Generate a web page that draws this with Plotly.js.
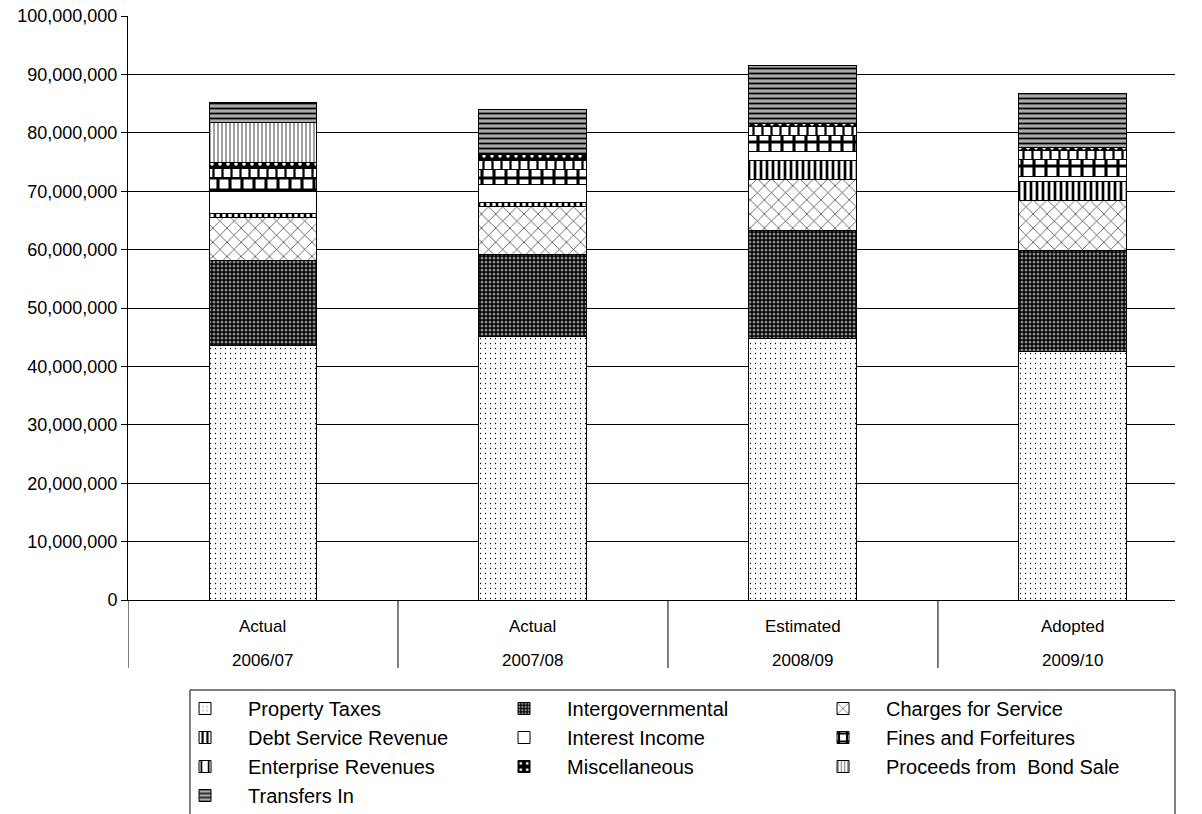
<!DOCTYPE html>
<html>
<head>
<meta charset="utf-8">
<script src="https://cdn.plot.ly/plotly-3.0.1.min.js"></script>
<style>
  html, body { margin: 0; padding: 0; background: #fff; }
  #chart { width: 1202px; height: 814px; }
</style>
</head>
<body>
<div id="chart"></div>
<script>
// Revenue by source, four budget years
const categoryLabels = ['Actual', 'Actual', 'Estimated', 'Adopted'];
const yearLabels = ['2006/07', '2007/08', '2008/09', '2009/10'];
const positions = [0, 1, 2, 3];

const seriesNames = [
  'Property Taxes', 'Intergovernmental', 'Charges for Service',
  'Debt Service Revenue', 'Interest Income', 'Fines and Forfeitures',
  'Enterprise Revenues', 'Miscellaneous', 'Proceeds from  Bond Sale',
  'Transfers In'
];

const propertyTaxes      = [43660000, 45090000, 44810000, 42520000];
const intergovernmental  = [14560000, 13990000, 18430000, 17290000];
const chargesForService  = [7310000, 8270000, 8680000, 8560000];
const debtServiceRevenue = [690000, 680000, 3420000, 3260000];
const interestIncome     = [3690000, 3150000, 1540000, 970000];
const finesForfeitures   = [2470000, 2620000, 2740000, 2910000];
const enterpriseRevenues = [1540000, 1420000, 1430000, 1460000];
const miscellaneous      = [960000, 980000, 580000, 570000];
const bondSaleProceeds   = [6850000, 0, 0, 0];
const transfersIn        = [3420000, 7820000, 9810000, 9250000];

const seriesValues = [
  propertyTaxes, intergovernmental, chargesForService, debtServiceRevenue,
  interestIncome, finesForfeitures, enterpriseRevenues, miscellaneous,
  bondSaleProceeds, transfersIn
];

// Monochrome fill patterns, one per revenue source
const fills = [
  { bg: '#ffffff', pattern: { shape: '.', fgcolor: '#000', bgcolor: '#fff', size: 5, solidity: 0.05 } },
  { bg: '#000000', pattern: { shape: '.', fgcolor: '#8a8a8a', bgcolor: '#000', size: 4, solidity: 0.45 } },
  { bg: '#ffffff', pattern: { shape: 'x', fgcolor: '#333', bgcolor: '#fff', size: 10, solidity: 0.14 } },
  { bg: '#ffffff', pattern: { shape: '|', fgcolor: '#000', bgcolor: '#fff', size: 6, solidity: 0.45 } },
  { bg: '#ffffff', pattern: { shape: '', fgcolor: '#000', bgcolor: '#fff' } },
  { bg: '#ffffff', pattern: { shape: '+', fgcolor: '#000', bgcolor: '#fff', size: 12, solidity: 0.45 } },
  { bg: '#ffffff', pattern: { shape: '|', fgcolor: '#000', bgcolor: '#fff', size: 9, solidity: 0.25 } },
  { bg: '#000000', pattern: { shape: '.', fgcolor: '#fff', bgcolor: '#000', size: 8, solidity: 0.15 } },
  { bg: '#ffffff', pattern: { shape: '|', fgcolor: '#777', bgcolor: '#fff', size: 4, solidity: 0.35 } },
  { bg: '#999999', pattern: { shape: '-', fgcolor: '#000', bgcolor: '#aaa', size: 5, solidity: 0.35 } }
];

const traces = seriesNames.map((name, i) => ({
  type: 'bar',
  name: name,
  x: positions,
  y: seriesValues[i],
  width: 0.4,
  marker: {
    color: fills[i].bg,
    pattern: fills[i].pattern,
    line: { color: '#000', width: 1 }
  },
  hoverinfo: 'name+y'
}));

const labelFont = { family: 'Arial, Liberation Sans, sans-serif', size: 17, color: '#000' };
const tickFont = { family: 'Arial, Liberation Sans, sans-serif', size: 18, color: '#000' };

// Two-line category labels under each bar
const annotations = [];
positions.forEach((p, i) => {
  annotations.push({
    x: p, xref: 'x', y: -0.046, yref: 'paper', yanchor: 'middle',
    text: categoryLabels[i], showarrow: false, font: labelFont
  });
  annotations.push({
    x: p, xref: 'x', y: -0.103, yref: 'paper', yanchor: 'middle',
    text: yearLabels[i], showarrow: false, font: labelFont
  });
});

// Vertical dividers between category label groups
const shapes = positions.map(p => ({
  type: 'line', xref: 'x', yref: 'paper',
  x0: p - 0.5, x1: p - 0.5, y0: 0, y1: -0.1164,
  line: { color: '#000', width: 1 }
}));

// Frame around the legend (open at the bottom edge of the page)
shapes.push({
  type: 'rect', xref: 'paper', yref: 'paper', layer: 'below',
  x0: 0.0592, x1: 1.0, y0: -0.1541, y1: -0.40,
  line: { color: '#000', width: 1 }, fillcolor: 'rgba(0,0,0,0)'
});

const layout = {
  width: 1202,
  height: 814,
  barmode: 'stack',
  paper_bgcolor: '#fff',
  plot_bgcolor: '#fff',
  margin: { l: 128, r: 27, t: 16, b: 214, autoexpand: false },
  font: labelFont,
  xaxis: {
    range: [-0.5, 3.378],
    showticklabels: false,
    ticks: '',
    showgrid: false,
    zeroline: false,
    showline: true,
    linecolor: '#000',
    linewidth: 1,
    fixedrange: true
  },
  yaxis: {
    range: [0, 100000000],
    tickvals: [0, 10000000, 20000000, 30000000, 40000000, 50000000, 60000000, 70000000, 80000000, 90000000, 100000000],
    tickformat: ',d',
    ticks: 'outside',
    ticklen: 6,
    tickcolor: '#000',
    showgrid: true,
    gridcolor: '#000',
    gridwidth: 1,
    zeroline: false,
    showline: true,
    linecolor: '#000',
    linewidth: 1,
    tickfont: tickFont,
    fixedrange: true
  },
  legend: {
    orientation: 'h',
    traceorder: 'normal',
    x: 0.0325, xanchor: 'left',
    y: -0.1524, yanchor: 'top',
    bgcolor: 'rgba(0,0,0,0)',
    borderwidth: 0,
    itemwidth: 76,
    entrywidth: 228,
    font: { family: 'Arial, Liberation Sans, sans-serif', size: 20, color: '#000' }
  },
  annotations: annotations,
  shapes: shapes,
  showlegend: true
};

Plotly.newPlot('chart', traces, layout, { displayModeBar: false, staticPlot: true });
</script>
</body>
</html>
